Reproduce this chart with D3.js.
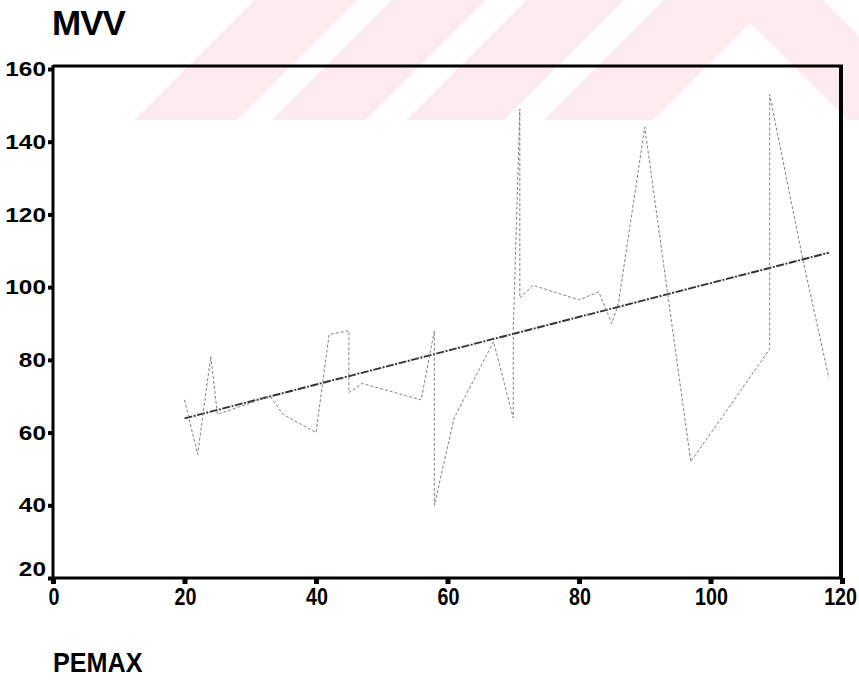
<!DOCTYPE html>
<html>
<head>
<meta charset="utf-8">
<script src="https://cdn.jsdelivr.net/npm/d3@7"></script>
<style>
  body { margin: 0; background: #fff; }
  svg { display: block; }
  text { font-family: "Liberation Sans", Arial, sans-serif; font-weight: bold; fill: #000; }
</style>
</head>
<body>
<svg id="chart" width="859" height="680"></svg>
<script>
// Observed MVV against PEMAX, in PEMAX order
const pemax = [20, 22, 24, 25, 33, 35, 40, 42, 45, 45, 47, 56, 58, 58, 61, 67, 70, 70, 71, 71, 73, 80, 83, 85, 86, 90, 97, 104, 109, 109, 114, 118];
const mvv   = [69, 54, 81, 65, 70, 65, 60, 87, 88, 71, 73.5, 69, 88, 40, 64, 85, 64, 88, 149, 97, 100.5, 96.5, 98.7, 90, 95.6, 144, 52, 70, 83, 153, 108, 75];

// Linear fit MVV = a + b * PEMAX
const fitIntercept = 54.6;
const fitSlope = 0.465;

const xTicks = [0, 20, 40, 60, 80, 100, 120];
const yTicks = [20, 40, 60, 80, 100, 120, 140, 160];

const titleText = "MVV";
const xAxisText = "PEMAX";

const W = 859;
const svg = d3.select("#chart");

const x = d3.scaleLinear().domain([0, 120]).range([53, 842]);
const y = d3.scaleLinear().domain([20, 160]).range([578, 69]);

// Light diagonal stripe emblem behind the top of the page
const wm = svg.append("g").attr("fill", "#fdebee");
const band = 120;
[[254, 357], [392, 486], [526, 624]].forEach(([c1, c2]) => {
  wm.append("polygon").attr("points",
    [[c1 - band, band], [c1, 0], [c2, 0], [c2 - band, band]].map(p => p.join(",")).join(" "));
});
wm.append("polygon").attr("points",
  [[544, band], [664, 0], [823, 0], [859, 36], [859, band], [847, band], [750, 23], [653, band]]
    .map(p => p.join(",")).join(" "));

// Fitted line across the observed PEMAX range
const xMin = d3.min(pemax), xMax = d3.max(pemax);
svg.append("line")
  .attr("x1", x(xMin)).attr("y1", y(fitIntercept + fitSlope * xMin))
  .attr("x2", x(xMax)).attr("y2", y(fitIntercept + fitSlope * xMax))
  .attr("stroke", "#333").attr("stroke-width", 1.9)
  .attr("stroke-dasharray", "8,1.5,2,1.5");

// Observed series
const pts = pemax.map((v, i) => [v, mvv[i]]);
svg.append("path")
  .datum(pts)
  .attr("fill", "none")
  .attr("stroke", "#808080")
  .attr("stroke-width", 1)
  .attr("stroke-dasharray", "3,2")
  .attr("d", d3.line().x(d => x(d[0])).y(d => y(d[1])));

// Frame: top and right edges
svg.append("line").attr("x1", x(0)).attr("x2", x(120) + 1).attr("y1", 66).attr("y2", 66)
  .attr("stroke", "#000").attr("stroke-width", 3);
svg.append("line").attr("x1", x(120) - 1).attr("x2", x(120) - 1).attr("y1", 65).attr("y2", y(20))
  .attr("stroke", "#000").attr("stroke-width", 4);

// Left axis
const yAxis = svg.append("g")
  .attr("transform", `translate(${x(0)},0)`)
  .call(d3.axisLeft(y).tickValues(yTicks).tickSize(5).tickSizeOuter(0).tickFormat(""));
yAxis.select(".domain").attr("stroke", "#000").attr("stroke-width", 3).attr("d", `M0,65V${y(20) + 1}`);
yAxis.selectAll(".tick line").attr("stroke", "#000").attr("stroke-width", 4);

// Bottom axis
const xAxis = svg.append("g")
  .attr("transform", `translate(0,${y(20)})`)
  .call(d3.axisBottom(x).tickValues(xTicks).tickSize(6).tickSizeOuter(0).tickFormat(""));
xAxis.select(".domain").attr("stroke", "#000").attr("stroke-width", 3).attr("d", `M${x(0) - 1},0H${x(120) + 1}`);
xAxis.selectAll(".tick line").attr("stroke", "#000").attr("stroke-width", 5);

// Tick labels: wide digits on the value axis, narrow tall digits on the PEMAX axis
svg.append("g").selectAll("text")
  .data(yTicks).join("text")
  .attr("transform", d => `translate(46,${Math.min(y(d), y(20) - 9)}) scale(1.22,1)`)
  .attr("dy", "0.36em")
  .attr("text-anchor", "end")
  .attr("font-size", 20)
  .text(d => d);

const xsx = 0.82;
svg.append("g").selectAll("text")
  .data(xTicks).join("text")
  .attr("text-anchor", "middle")
  .attr("font-size", 24)
  .text(d => d)
  .attr("transform", function (d) {
    const half = this.getComputedTextLength() * xsx / 2;
    const cx = Math.min(x(d) + 1, W - 2 - half);
    return `translate(${cx},605) scale(${xsx},1)`;
  });

// Titles
svg.append("text").attr("x", 52).attr("y", 35).attr("font-size", 35)
  .attr("letter-spacing", -1).text(titleText);
svg.append("text").attr("transform", "translate(53,672) scale(0.9,1)")
  .attr("font-size", 28).text(xAxisText);
</script>
</body>
</html>
